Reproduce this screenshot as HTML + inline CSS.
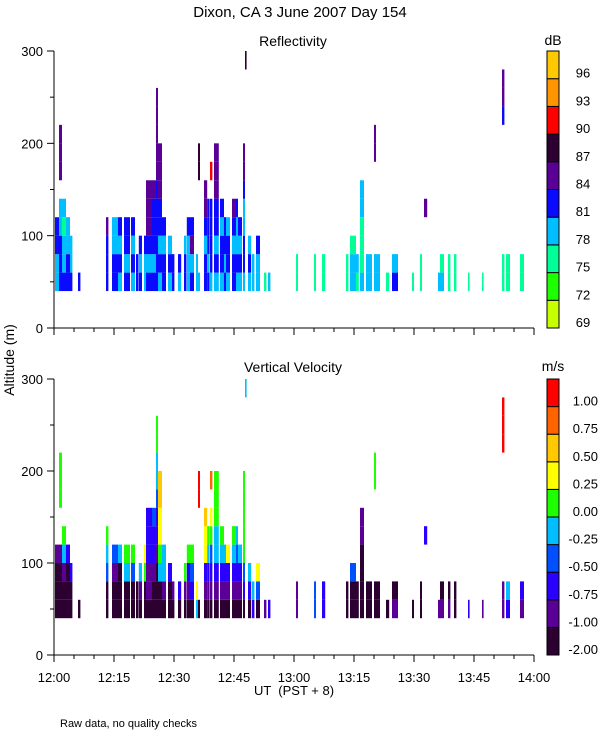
<!DOCTYPE html>
<html><head><meta charset="utf-8">
<style>
html,body{margin:0;padding:0;background:#fff;}
svg{display:block;font-family:"Liberation Sans",sans-serif;}
</style></head>
<body>
<svg id="chart" width="600" height="750" viewBox="0 0 600 750" xmlns="http://www.w3.org/2000/svg">
<text x="300" y="17" font-size="15" text-anchor="middle">Dixon, CA   3 June 2007   Day 154</text>
<text x="293" y="46" font-size="14" text-anchor="middle">Reflectivity</text>
<text x="293" y="372" font-size="14" text-anchor="middle">Vertical Velocity</text>
<text transform="translate(14,360) rotate(-90)" font-size="14" text-anchor="middle">Altitude (m)</text>
<text x="294" y="695" font-size="13" text-anchor="middle" xml:space="preserve">UT  (PST + 8)</text>
<text x="60" y="727" font-size="11">Raw data, no quality checks</text>
<text x="553" y="45" font-size="14" text-anchor="middle">dB</text>
<text x="553" y="371" font-size="14" text-anchor="middle">m/s</text>
<g id="layer"></g>
</svg>
<script>
// data
const colTimes  = [0.25,1.25,2,3,4,6,13,14.5,16,17.5,19.25,20.5,21.2,22.5,23,24.5,25.5,26,27,28.5,29.5,31,32.5,33.2,34,35.5,36,37.5,38.3,39,40,41.5,42.5,43,44.5,45.5,46,47.25,47.75,48.5,49.5,50.5,52.5,53.5,60.5,65,67,73,74,75.5,76.5,78,80,83,80,84.5,89.5,91.5,92.5,96,96.5,98.5,100,103.5,107,112,113,116.5];
const colWidths = [1,0.75,1,1,0.6,0.6,0.6,1.5,1,1.5,1,0.6,0.8,0.6,1.5,1,0.5,1,1,1,0.6,0.8,0.6,0.8,1,0.5,0.5,0.8,0.6,0.6,1.2,1,0.5,1,1,0.5,1,0.5,0.4,0.8,0.6,1,0.6,0.6,0.5,0.5,0.8,0.6,1.5,0.7,1,1.5,1.5,0.8,0.5,1.5,0.5,0.5,0.8,0.6,1,0.6,0.6,0.4,0.4,0.6,1,1];
const reflCodes = ["3344","44433.555","43323","4433","433","4","4445","4433","3434","4344","3434","44","434","334","434555","434445","44444455555","34344555","4434","343","44","34","443","3334","4354","33","3.....66","443455","43444","34444.7","34344555","34434","4344","3443","44345","34334","3434","34433455","............6","343","33","334","2","3","22","22","22","22","332","23","322233","33","33","2",".......55","43","2","22","....5","3","32","22","22","2","2","22.......455","22","22"];
const velCodes  = ["0001","0001..555","00145","0002","002","0","00345","0013","0004","0045","0035","00","014","0056","011222","001223","00012234455","00456677","0144","002","01","02","015","0125","0235","46","0.....99","012667","01245","012356.8","01244555","01245","0124","0126","01245","01234","0124","02355555","............4","024","24","036","1","2","11","33","22","00","003","00","000011","00","00","0",".......55","10","0","00","....2","1","10","10","00","2","1","11.......999","24","12"];
const reflColors = ["#c8ff00","#1eff00","#00ff96","#00beff","#0a0aff","#5a0096","#2d0032","#ff0000","#ff9600","#ffc800"];
const reflLabels = ["69","72","75","78","81","84","87","90","93","96"];
const velColors  = ["#2d0032","#5a0096","#2a00ff","#0050ff","#00beff","#1eff00","#ffff00","#ffc800","#ff6400","#ff0000"];
const velLabels  = ["-2.00","-1.00","-0.75","-0.50","-0.25","0.00","0.25","0.50","0.75","1.00"];
const yTicks = [0,100,200,300];
const xTickLabels = ["12:00","12:15","12:30","12:45","13:00","13:15","13:30","13:45","14:00"];
const gateBase = 40, gateSize = 20;

const NS = "http://www.w3.org/2000/svg";
const layer = document.getElementById('layer');
const X0 = 54, X1 = 534;
const panels = [
  {name:'reflectivity', top:51, bottom:328, codes:reflCodes, colors:reflColors, labels:reflLabels},
  {name:'velocity', top:379, bottom:655, codes:velCodes, colors:velColors, labels:velLabels}
];
function xs(min){ return X0 + (X1-X0)*min/120; }
function mk(tag, attrs){ const e=document.createElementNS(NS,tag); for(const k in attrs) e.setAttribute(k,attrs[k]); layer.appendChild(e); return e; }

panels.forEach(p=>{
  const ys = a => p.bottom - (p.bottom-p.top)*a/300;
  colTimes.forEach((t,i)=>{
    const code = p.codes[i];
    for(let g=0; g<code.length; g++){
      const c = code[g];
      if(c==='.') continue;
      const a0 = gateBase + g*gateSize;
      const r = mk('rect',{x:xs(t).toFixed(2), y:ys(a0+gateSize).toFixed(2), width:(xs(t+colWidths[i])-xs(t)).toFixed(2), height:(ys(a0)-ys(a0+gateSize)).toFixed(2), fill:p.colors[+c]});
      
      
    }
  });
  const ax = mk('path',{d:`M${X0},${p.top} V${p.bottom} H${X1}`, stroke:'#000', fill:'none', 'stroke-width':1});
  
  
  for(let a=0;a<=300;a+=50){
    const major = a%100===0;
    mk('line',{x1:X0-(major?7:4), x2:X0, y1:ys(a), y2:ys(a), stroke:'#000'});
  }
  yTicks.forEach(v=>{
    const tx = mk('text',{x:X0-11, y:ys(v)+5, 'font-size':13, 'text-anchor':'end'});
    tx.textContent = v;
    
    
  });
  for(let m=0;m<=120;m+=5){
    const major = m%15===0;
    mk('line',{x1:xs(m), x2:xs(m), y1:p.bottom, y2:p.bottom+(major?7:4), stroke:'#000'});
  }
  const n = p.colors.length, h = (p.bottom-p.top)/n;
  p.colors.forEach((c,k)=>{
    const y = p.bottom - (k+1)*h;
    const r = mk('rect',{x:547, y:y.toFixed(2), width:12, height:h.toFixed(2), fill:c, stroke:'#000', 'stroke-width':1});
    
    
    const tx = mk('text',{x:p.name==='velocity'?598:583, y:(y+h-1).toFixed(1), 'font-size':13, 'text-anchor':p.name==='velocity'?'end':'middle'});
    tx.textContent = p.labels[k];
    
    
  });
});
xTickLabels.forEach((l,i)=>{
  const tx = mk('text',{x:xs(i*15), y:682, 'font-size':13, 'text-anchor':'middle'});
  tx.textContent = l;
  
  
});
</script>
</body></html>
